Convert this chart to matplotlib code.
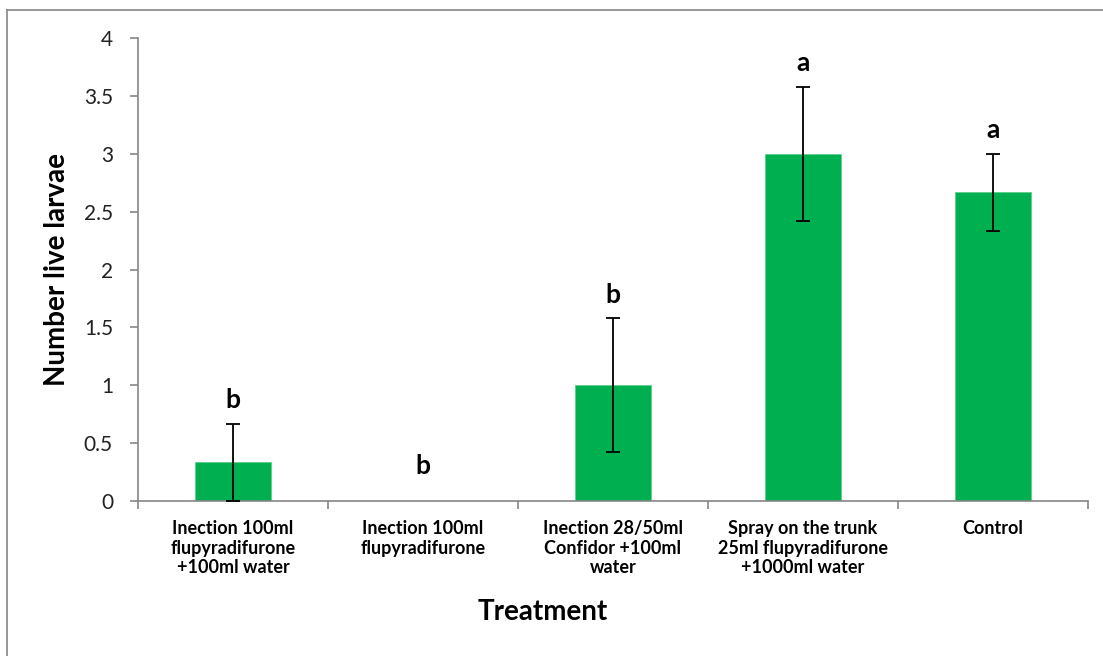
import matplotlib
matplotlib.use("Agg")
import matplotlib.pyplot as plt
from matplotlib.lines import Line2D

plt.rcParams['font.family'] = ['Lato', 'DejaVu Sans']

categories = ["Inection 100ml\nflupyradifurone\n+100ml water",
              "Inection 100ml\nflupyradifurone",
              "Inection 28/50ml\nConfidor +100ml\nwater",
              "Spray on the trunk\n25ml flupyradifurone\n+1000ml water",
              "Control"]
means = [0.333, 0.0, 1.0, 3.0, 2.667]
errors = [0.333, 0.0, 0.577, 0.577, 0.333]
letters = ["b", "b", "b", "a", "a"]
yticks = [0, 0.5, 1, 1.5, 2, 2.5, 3, 3.5, 4]
ytick_labels = ["0", "0.5", "1", "1.5", "2", "2.5", "3", "3.5", "4"]

W, H = 1103, 656
fig = plt.figure(figsize=(W / 100, H / 100), dpi=100)
ax = fig.add_axes([138 / W, 1 - 501 / H, (1088 - 138) / W, (501 - 38) / H])

x = list(range(len(categories)))
green = "#00B050"
ax.bar(x, means, width=0.4, color=green, edgecolor="#5BD08A", linewidth=0.6, zorder=2)
xs = [xi for xi, e in zip(x, errors) if e > 0]
ms = [m for m, e in zip(means, errors) if e > 0]
es = [e for e in errors if e > 0]
ax.errorbar(xs, ms, yerr=es, fmt="none", ecolor="black", elinewidth=1.3,
            capsize=5, capthick=1.3, zorder=3)

for xi, m, e, l in zip(x, means, errors, letters):
    yl = m + e + 0.1 if e > 0 else 0.2
    ax.text(xi, yl, l, ha="center", va="bottom", fontsize=19, fontweight="bold", color="black")

ax.set_xlim(-0.5, len(categories) - 0.5)
ax.set_ylim(0, 4)
ax.set_yticks(yticks)
ax.set_yticklabels(ytick_labels, fontsize=15, color="#222222")
ax.set_xticks([xi - 0.5 for xi in x] + [len(x) - 0.5])
ax.set_xticklabels([])
ax.set_xticks(x, minor=True)
ax.set_xticklabels(categories, minor=True, fontsize=13, fontweight="bold",
                   linespacing=1.15)
ax.tick_params(axis="x", which="minor", length=0, pad=14)
ax.tick_params(axis="x", which="major", length=6, color="#868686", width=1.2)
ax.tick_params(axis="y", length=6, color="#868686", width=1.2, pad=12)

for s in ["top", "right"]:
    ax.spines[s].set_visible(False)
for s in ["left", "bottom"]:
    ax.spines[s].set_color("#868686")
    ax.spines[s].set_linewidth(1.2)

ax.set_ylabel("Number live larvae", fontsize=20, fontweight="bold")
ax.yaxis.set_label_coords(-68 / 950, 0.5)
fig.text(543 / W, 1 - 612 / H, "Treatment", ha="center", va="center",
         fontsize=20, fontweight="bold")

# outer chart border (left and top visible)
fig.add_artist(Line2D([7 / W, 7 / W], [0, 1 - 10 / H], transform=fig.transFigure,
                      color="#868686", linewidth=1.2))
fig.add_artist(Line2D([7 / W, 1], [1 - 10 / H, 1 - 10 / H], transform=fig.transFigure,
                      color="#868686", linewidth=1.2))

fig.savefig("out.png", dpi=100)
